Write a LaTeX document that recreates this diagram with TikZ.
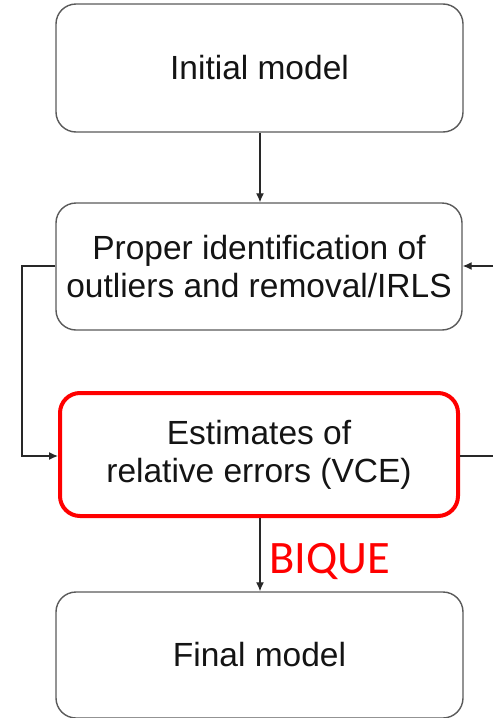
\documentclass[tikz,border=0pt]{standalone}
\usepackage{fontspec}
\setmainfont{Liberation Sans}
\newfontfamily\labelfont{Carlito}
\usetikzlibrary{arrows.meta}
\definecolor{boxline}{RGB}{90,90,90}
\definecolor{wire}{RGB}{40,40,40}
\definecolor{ink}{RGB}{20,20,20}
\tikzset{
  stagebox/.style={draw=boxline, line width=1.4pt, rounded corners=20pt,
    fill=white, text=ink, align=center, inner sep=0pt,
    font=\fontsize{33.5}{38}\selectfont},
  keybox/.style={stagebox, draw={rgb,255:red,255;green,0;blue,0}, line width=4pt},
  flow/.style={draw=wire, line width=1.3pt, -{Latex[length=9pt,width=8pt]}},
  plain/.style={draw=wire, line width=1.3pt}
}
\begin{document}
\begin{tikzpicture}[x=1pt,y=-1pt]
  \useasboundingbox (0,0) rectangle (493,718);
  % the four stages
  \node[stagebox, minimum width=407pt, minimum height=128pt] (init) at (259.5,68) {Initial model};
  \node[stagebox, minimum width=406pt, minimum height=127pt] (outl) at (259,266.5)
    {Proper identification of\\outliers and removal/IRLS};
  \node[keybox, minimum width=398pt, minimum height=123pt] (vce) at (259,454.5)
    {Estimates of\\relative errors (VCE)};
  \node[stagebox, minimum width=407pt, minimum height=126pt] (final) at (259.5,655) {Final model};
  % main flow
  \draw[flow] (init.south -| 260,0) -- (outl.north -| 260,0);
  \draw[flow] (vce.south -| 260,0) -- (final.north -| 260,0);
  \node[text={rgb,255:red,255;green,0;blue,0}, font=\labelfont\fontsize{46.5}{52}\selectfont,
    anchor=west, inner sep=0pt] (bique) at (269,561) {BIQUE};
  % feedback loop on the left
  \coordinate (lbend) at (22,266);
  \draw[flow] (outl.west |- 0,266) -- (lbend) -- (22,456) -- (vce.west |- 0,456);
  % loop continuing past the right edge
  \coordinate (rin) at (493,266);
  \coordinate (rout) at (493,456);
  \draw[flow] (rin) -- (outl.east |- rin);
  \draw[plain] (vce.east |- rout) -- (rout);
\end{tikzpicture}
\end{document}
